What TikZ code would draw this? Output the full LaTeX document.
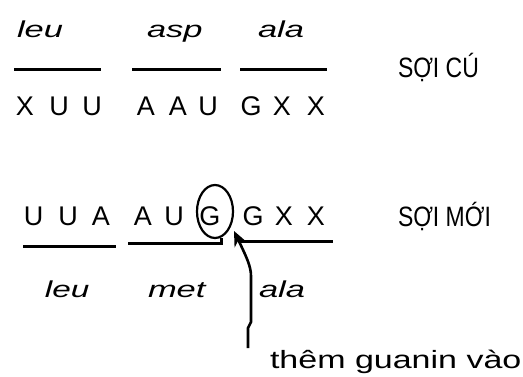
\documentclass[tikz,border=0pt]{standalone}
\usepackage{fontspec}
\setmainfont{Liberation Sans}
\usetikzlibrary{arrows.meta,shapes.geometric}
\tikzset{
  txt/.style={inner sep=0pt, outer sep=0pt, anchor=base},
  nuc/.style={txt, font=\fontsize{27}{27}\selectfont},
  amino/.style={txt, anchor=base west, font=\fontsize{23}{23}\selectfont\itshape},
  strand/.style={txt, anchor=base west, font=\fontsize{28}{28}\selectfont},
  remark/.style={txt, anchor=base west, font=\fontsize{25}{25}\selectfont},
  bar/.style={line width=3pt},
  ring/.style={draw, ellipse, line width=2.2pt, inner sep=0pt, minimum width=36pt, minimum height=53pt},
  pointer/.style={line width=2.6pt, -{Stealth[length=15pt,width=13pt]}}
}
\newcommand{\wide}[2]{\scalebox{#1}[1]{#2}}
\begin{document}
\begin{tikzpicture}[x=1pt,y=-1pt]
\useasboundingbox (0,0) rectangle (523,376);
% top amino acid labels
\node[amino] (l1) at (17,37) {\wide{1.5}{leu}};
\node[amino] (l2) at (147,37) {\wide{1.5}{asp}};
\node[amino] (l3) at (258,37) {\wide{1.5}{ala}};
% top bars
\draw[bar] (14,69) -- (101,69);
\draw[bar] (132,69) -- (221,69);
\draw[bar] (240,69) -- (327,69);
% old strand letters
\node[nuc] (a1) at (25,115) {X};
\node[nuc] (a2) at (59,115) {U};
\node[nuc] (a3) at (92,115) {U};
\node[nuc] (a4) at (146,115) {A};
\node[nuc] (a5) at (178,115) {A};
\node[nuc] (a6) at (208,115) {U};
\node[nuc] (a7) at (251,115) {G};
\node[nuc] (a8) at (282,115) {X};
\node[nuc] (a9) at (316,115) {X};
\node[strand] (old) at (398,77) {\wide{0.82}{SỢI CÚ}};
% new strand letters
\node[nuc] (b1) at (33.5,225) {U};
\node[nuc] (b2) at (68,225) {U};
\node[nuc] (b3) at (101,225) {A};
\node[nuc] (b4) at (143,225) {A};
\node[nuc] (b5) at (174,225) {U};
\node[nuc] (b6) at (210,225) {G};
\node[nuc] (b7) at (253,225) {G};
\node[nuc] (b8) at (284,225) {X};
\node[nuc] (b9) at (316,225) {X};
\node[strand] (new) at (398,226) {\wide{0.82}{SỢI MỚI}};
\node[ring] (ring) at (215,211.5) {};
% bottom bars
\draw[bar] (23,246) -- (116,246);
\draw[bar] (128,243) -- (221,243) -- (221,238);
\draw[bar] (240,241) -- (333,241);
% bottom amino acid labels
\node[amino] (m1) at (45,297) {\wide{1.45}{leu}};
\node[amino] (m2) at (148,297) {\wide{1.5}{met}};
\node[amino] (m3) at (259,297) {\wide{1.5}{ala}};
% arrow
\coordinate (tail) at (248,348);
\coordinate (tip) at (234,231);
\draw[pointer] (tail) -- (248,328) -- (251,322) -- (251,276) .. controls (251,266) and (246,256) .. (tip);
\node[remark] (add) at (270,368) {\wide{1.36}{thêm guanin vào}};
\end{tikzpicture}
\end{document}
